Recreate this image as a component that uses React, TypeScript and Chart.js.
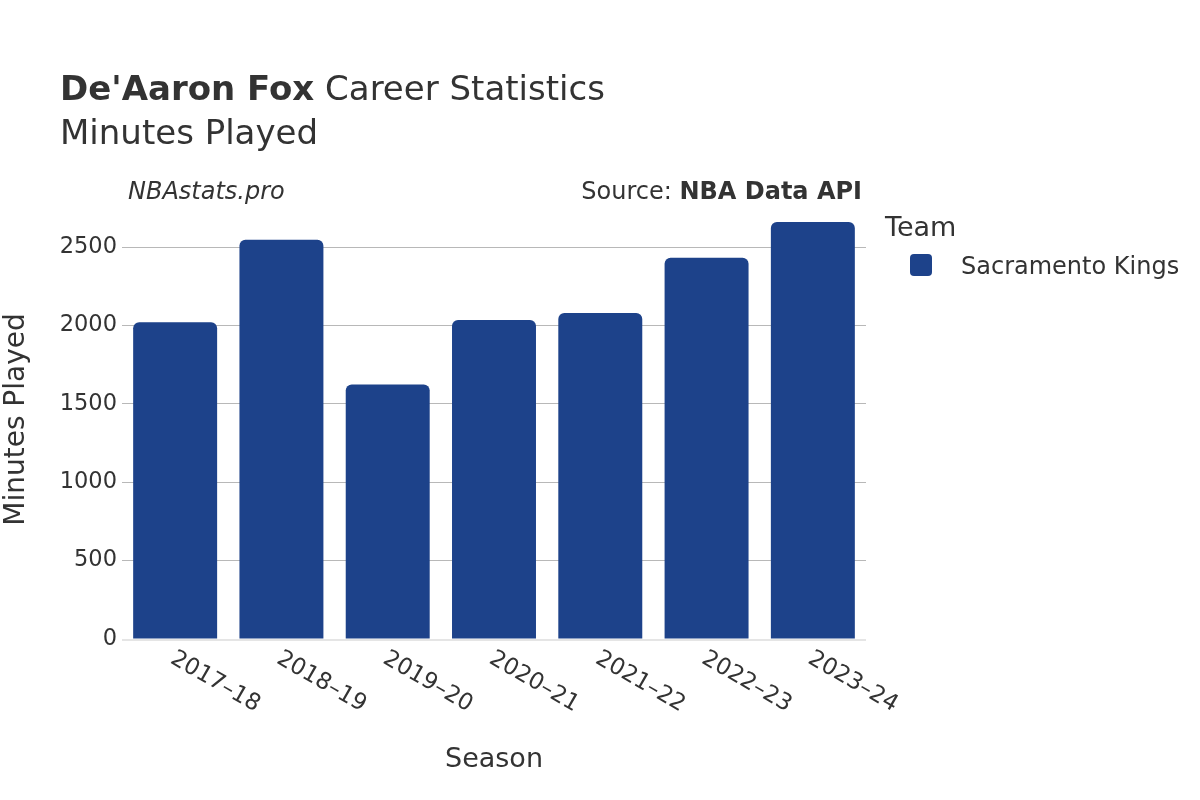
import React, { useEffect, useRef } from "react";
import { Chart, registerables } from "chart.js";

Chart.register(...registerables);

const seasons = ["2017–18", "2018–19", "2019–20", "2020–21", "2021–22", "2022–23", "2023–24"];
const minutesPlayed = [2021, 2546, 1624, 2034, 2079, 2432, 2659];
const teamName = "Sacramento Kings";
const teamColor = "#1d428a";
const yTickValues = [0, 500, 1000, 1500, 2000, 2500];
const yMax = 2800;

const FONT = "'DejaVu Sans', sans-serif";
const TEXT = "#333333";

const overlay = {
  id: "overlay",
  beforeDatasetsDraw(chart: any) {
    const { ctx, chartArea } = chart;
    const y0 = chart.scales.y.getPixelForValue(0);
    ctx.save();
    ctx.strokeStyle = "#e5e5e5";
    ctx.lineWidth = 2;
    ctx.beginPath();
    ctx.moveTo(chartArea.left, y0 + 1);
    ctx.lineTo(chartArea.right, y0 + 1);
    ctx.stroke();
    ctx.restore();
  },
  afterDraw(chart: any) {
    const { ctx, chartArea } = chart;
    ctx.save();
    ctx.fillStyle = TEXT;
    ctx.textBaseline = "alphabetic";
    ctx.textAlign = "left";

    // Title
    ctx.font = `bold 34px ${FONT}`;
    const bold = "De'Aaron Fox";
    ctx.fillText(bold, 60, 100);
    const bw = ctx.measureText(bold).width;
    ctx.font = `34px ${FONT}`;
    ctx.fillText(" Career Statistics", 60 + bw, 100);
    ctx.fillText("Minutes Played", 60, 144);

    // Watermark / source
    ctx.font = `italic 24px ${FONT}`;
    ctx.fillText("NBAstats.pro", 128, 199);
    ctx.textAlign = "right";
    ctx.font = `bold 24px ${FONT}`;
    const src = "NBA Data API";
    ctx.fillText(src, 862, 199);
    const sw = ctx.measureText(src).width;
    ctx.font = `24px ${FONT}`;
    ctx.fillText("Source: ", 862 - sw, 199);

    // Axis titles
    ctx.textAlign = "center";
    ctx.textBaseline = "middle";
    ctx.font = `27px ${FONT}`;
    ctx.fillText("Season", (chartArea.left + chartArea.right) / 2, 760);
    ctx.save();
    ctx.translate(17, (chartArea.top + chartArea.bottom) / 2);
    ctx.rotate(-Math.PI / 2);
    ctx.font = `28px ${FONT}`;
    ctx.fillText("Minutes Played", 0, 0);
    ctx.restore();

    // X tick labels rotated 30deg
    const xs = chart.scales.x;
    ctx.font = `23px ${FONT}`;
    ctx.textAlign = "left";
    ctx.textBaseline = "middle";
    seasons.forEach((s, i) => {
      const x = xs.getPixelForValue(i);
      ctx.save();
      ctx.translate(x - 3, 657);
      ctx.rotate(Math.PI / 6);
      ctx.fillText(s, 0, 0);
      ctx.restore();
    });

    // Legend
    ctx.textAlign = "left";
    ctx.textBaseline = "alphabetic";
    ctx.font = `27px ${FONT}`;
    ctx.fillText("Team", 885, 236);
    ctx.fillStyle = teamColor;
    ctx.beginPath();
    (ctx as any).roundRect(910, 254, 22, 22, 4);
    ctx.fill();
    ctx.fillStyle = TEXT;
    ctx.font = `24px ${FONT}`;
    ctx.textBaseline = "middle";
    ctx.fillText(teamName, 961, 268);
    ctx.restore();
  },
};

export default function App() {
  const ref = useRef<HTMLCanvasElement>(null);
  useEffect(() => {
    if (!ref.current) return;
    const chart = new Chart(ref.current, {
      type: "bar",
      data: {
        labels: seasons,
        datasets: [
          {
            label: teamName,
            data: minutesPlayed,
            backgroundColor: teamColor,
            borderRadius: 6,
            borderSkipped: "start",
            categoryPercentage: 1,
            barPercentage: 0.79,
          },
        ],
      },
      options: {
        animation: false,
        responsive: false,
        layout: { padding: { top: 200, left: 0, right: 334, bottom: 0 } },
        plugins: { legend: { display: false }, title: { display: false }, tooltip: { enabled: false } },
        scales: {
          x: {
            grid: { display: false },
            border: { display: false },
            ticks: { display: false },
            afterFit: (s: any) => {
              s.height = 161;
            },
          },
          y: {
            min: 0,
            max: yMax,
            border: { display: false },
            grid: {
              drawTicks: false,
              color: (c: any) => (c.tick && c.tick.value > 0 ? "#b8b8b8" : "rgba(0,0,0,0)"),
              lineWidth: 1,
            },
            ticks: {
              autoSkip: false,
              padding: 5,
              color: TEXT,
              font: { family: FONT, size: 22.5 },
              callback: (v: any) => String(v),
            },
            afterBuildTicks: (s: any) => {
              s.ticks = yTickValues.map((v) => ({ value: v }));
            },
            afterFit: (s: any) => {
              s.width = 122;
            },
          },
        },
      },
      plugins: [overlay],
    });
    return () => chart.destroy();
  }, []);
  return (
    <div style={{ position: "fixed", left: 0, top: 0, width: 1200, height: 800, background: "#fff" }}>
      <canvas ref={ref} width={1200} height={800} />
    </div>
  );
}
